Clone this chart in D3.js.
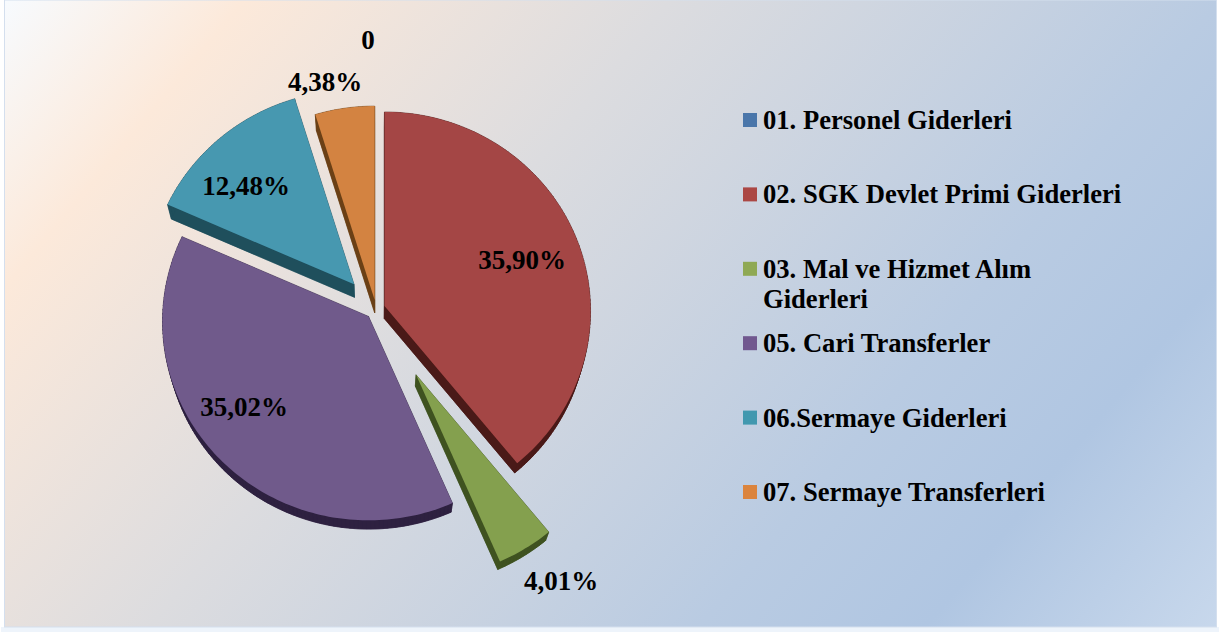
<!DOCTYPE html>
<html><head><meta charset="utf-8">
<script src="https://cdnjs.cloudflare.com/ajax/libs/d3/7.8.5/d3.min.js"></script>
<style>html,body{margin:0;padding:0;background:#fff}svg{display:block}text{font-family:"Liberation Serif",serif;font-weight:bold;fill:#000}</style>
</head><body><svg id="c" width="1219" height="632"></svg>
<script>
const categories=["01. Personel Giderleri","02. SGK Devlet Primi Giderleri","03. Mal ve Hizmet Alım Giderleri","05. Cari Transferler","06.Sermaye Giderleri","07. Sermaye Transferleri"];
const legendLines=[["01. Personel Giderleri"],["02. SGK Devlet Primi Giderleri"],["03. Mal ve Hizmet Alım","Giderleri"],["05. Cari Transferler"],["06.Sermaye Giderleri"],["07. Sermaye Transferleri"]];
const values=[0,35.90,4.01,35.02,12.48,4.38];
const valueLabels=["0","35,90%","4,01%","35,02%","12,48%","4,38%"];
const faceColors=["#4a76aa","#a44645","#84a04e","#705a8b","#4798b0","#d38341"];
const sideColors=["#26405f","#4a1a18","#3f5220","#2e2140","#1f4f5c","#6b4016"];
const swatchColors=["#4a76aa","#ab4744","#8fa954","#71588f","#4198af","#db843d"];
const explode=[0,9,77,10.5,33,9];
const labelAnchors=[[368,49],[522,269],[561,590],[244,416],[246,195],[325,91]];

const svg=d3.select("#c");
const defs=svg.append("defs");
const g=defs.append("linearGradient").attr("id","bg").attr("gradientUnits","userSpaceOnUse").attr("x1",0).attr("y1",0).attr("x2",1030).attr("y2",858);
[[0,"#f7fbff"],[.14,"#fce9da"],[.385,"#dcdcdf"],[.70,"#b9cbe2"],[.83,"#b0c6e2"],[1,"#c8d8ec"]].forEach(s=>g.append("stop").attr("offset",s[0]).attr("stop-color",s[1]));
svg.append("rect").attr("x",0).attr("y",0).attr("width",1219).attr("height",632).attr("fill","#ffffff");
svg.append("rect").attr("x",1).attr("y",627).attr("width",1218).attr("height",5).attr("fill","#eef4fb");
svg.append("rect").attr("x",4.5).attr("y",0).attr("width",1212).attr("height",627).attr("fill","url(#bg)").attr("stroke","#d4dfee").attr("stroke-width",1);

const cx=376,cy=309,rx=206,ry=199,persp=0.025;
const pie=d3.pie().sort(null).value(d=>d);
const arcs=pie(values);
const line=d3.line().x(d=>d[0]).y(d=>d[1]);
function outline(a){
  const mid=(a.startAngle+a.endAngle)/2,e=explode[a.index];
  const ox=cx+e*Math.sin(mid),oy=cy-e*Math.cos(mid);
  const pts=[[ox,oy]];
  const n=Math.max(2,Math.ceil((a.endAngle-a.startAngle)/0.02));
  d3.range(n+1).forEach(i=>{
    const t=a.startAngle+(a.endAngle-a.startAngle)*i/n,p=1-persp*Math.cos(t);
    pts.push([ox+rx*p*Math.sin(t),oy-ry*p*Math.cos(t)]);
  });
  return pts;
}
const extrude=p=>[p[0]+(cx-p[0])*0.018,p[1]+14.5-(p[1]-200)*0.018];
const order=[5,4,1,3,2];
order.forEach(i=>{
  const a=arcs[i],pts=outline(a),low=pts.map(extrude);
  const closed=pts.concat([pts[0]]),lowClosed=low.concat([low[0]]);
  const sg=svg.append("g");
  sg.append("path").attr("d",line(low)+"Z").attr("fill",sideColors[i]).attr("stroke",sideColors[i]).attr("stroke-width",.5);
  d3.pairs(d3.range(closed.length)).forEach(([u,v])=>{
    sg.append("path").attr("d",line([closed[u],closed[v],lowClosed[v],lowClosed[u]])+"Z").attr("fill",sideColors[i]).attr("stroke",sideColors[i]).attr("stroke-width",.5);
  });
  sg.append("path").attr("d",line(pts)+"Z").attr("fill",faceColors[i]);
});
valueLabels.forEach((t,i)=>{
  svg.append("text").attr("x",labelAnchors[i][0]).attr("y",labelAnchors[i][1]).attr("text-anchor","middle").attr("font-size",27).text(t);
});
const legendY=d3.scaleLinear().domain([0,5]).range([129,501]);
legendLines.forEach((ls,i)=>{
  const y=legendY(i);
  svg.append("rect").attr("x",743).attr("y",y-16).attr("width",14).attr("height",14).attr("fill",swatchColors[i]);
  ls.forEach((t,j)=>svg.append("text").attr("x",763).attr("y",y+j*30).attr("font-size",26.6).text(t));
});
</script></body></html>
